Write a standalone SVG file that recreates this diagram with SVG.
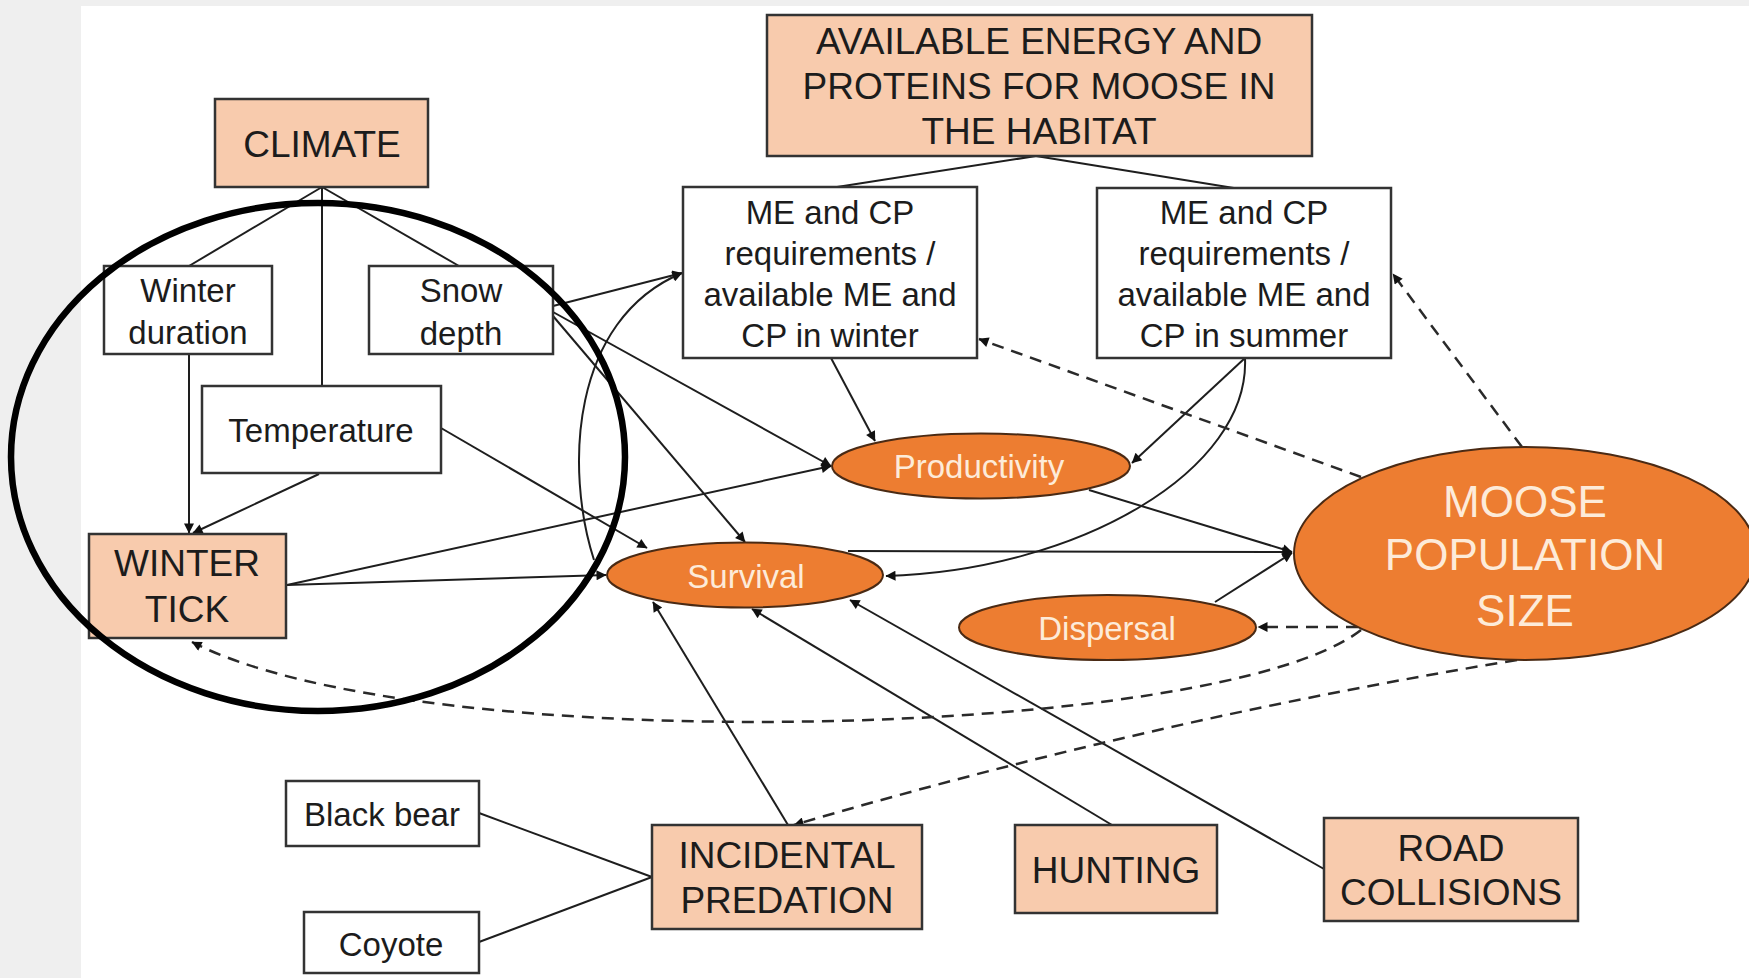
<svg xmlns="http://www.w3.org/2000/svg" width="1749" height="978" viewBox="0 0 1749 978">
  <defs>
    <marker id="arrow" viewBox="0 0 10 10" refX="9.5" refY="5" markerWidth="12" markerHeight="10" markerUnits="userSpaceOnUse" orient="auto">
      <path d="M0,0 L10,5 L0,10 z" fill="#111"/>
    </marker>
    <style>
      .box { stroke: #333; stroke-width: 2.5; }
      .plain { fill: #ffffff; }
      .peach { fill: #f8cbad; }
      .oval { fill: #ed7d31; stroke: #4a2a14; stroke-width: 2; }
      .t { font-family: "Liberation Sans", Arial, sans-serif; text-anchor: middle; dominant-baseline: central; fill: #1c1c1c; }
      .up { font-size: 37px; }
      .lo { font-size: 33px; }
      .ot { font-size: 33px; fill: #fdebd9; }
      .big { font-size: 44px; fill: #fdebd9; }
      .ln { fill: none; stroke: #1e1e1e; stroke-width: 2; }
      .dash { fill: none; stroke: #2a2a2a; stroke-width: 2.5; stroke-dasharray: 12 8; }
    </style>
  </defs>

  <!-- page background -->
  <rect x="0" y="0" width="1749" height="978" fill="#efefef"/>
  <rect x="81" y="6" width="1668" height="972" fill="#ffffff"/>

  <!-- connectors -->
  <g id="connectors">
    <!-- climate drivers -->
    <line class="ln" x1="322" y1="187" x2="189" y2="266"/>
    <line class="ln" x1="322" y1="187" x2="322" y2="386"/>
    <line class="ln" x1="322" y1="187" x2="459" y2="266"/>
    <line class="ln" x1="189" y1="354" x2="189" y2="533" marker-end="url(#arrow)"/>
    <line class="ln" x1="319" y1="474" x2="193" y2="533" marker-end="url(#arrow)"/>
    <!-- habitat energy -->
    <line class="ln" x1="1036" y1="156" x2="837" y2="187"/>
    <line class="ln" x1="1036" y1="156" x2="1240" y2="189"/>
    <!-- snow depth effects -->
    <line class="ln" x1="553" y1="306" x2="682" y2="273" marker-end="url(#arrow)"/>
    <line class="ln" x1="553" y1="312" x2="831" y2="466" marker-end="url(#arrow)"/>
    <line class="ln" x1="553" y1="316" x2="745" y2="542" marker-end="url(#arrow)"/>
    <path class="ln" d="M594,560 C565,470 570,320 682,273" marker-end="url(#arrow)"/>
    <!-- temperature and winter tick -->
    <line class="ln" x1="441" y1="428" x2="647" y2="548" marker-end="url(#arrow)"/>
    <line class="ln" x1="287" y1="585" x2="831" y2="466" marker-end="url(#arrow)"/>
    <line class="ln" x1="287" y1="585" x2="606" y2="575" marker-end="url(#arrow)"/>
    <!-- seasonal energy balance -->
    <line class="ln" x1="831" y1="358" x2="875" y2="441" marker-end="url(#arrow)"/>
    <line class="ln" x1="1245" y1="358" x2="1132" y2="463" marker-end="url(#arrow)"/>
    <path class="ln" d="M1245,358 C1250,470 1080,570 886,576" marker-end="url(#arrow)"/>
    <!-- vital rates to population -->
    <line class="ln" x1="1089" y1="490" x2="1292" y2="552" marker-end="url(#arrow)"/>
    <line class="ln" x1="848" y1="551" x2="1292" y2="552" marker-end="url(#arrow)"/>
    <line class="ln" x1="1215" y1="602" x2="1292" y2="553" marker-end="url(#arrow)"/>
    <!-- mortality sources -->
    <line class="ln" x1="788" y1="825" x2="653" y2="602" marker-end="url(#arrow)"/>
    <line class="ln" x1="1112" y1="825" x2="752" y2="609" marker-end="url(#arrow)"/>
    <line class="ln" x1="1324" y1="869" x2="850" y2="600" marker-end="url(#arrow)"/>
    <line class="ln" x1="479" y1="813" x2="652" y2="877"/>
    <line class="ln" x1="479" y1="942" x2="652" y2="877"/>
    <!-- density feedbacks -->
    <line class="dash" x1="1361" y1="477" x2="979" y2="339" marker-end="url(#arrow)"/>
    <line class="dash" x1="1522" y1="447" x2="1393" y2="274" marker-end="url(#arrow)"/>
    <line class="dash" x1="1358" y1="627" x2="1258" y2="627" marker-end="url(#arrow)"/>
    <path class="dash" d="M1361,630 C1220,740 420,760 192,642" marker-end="url(#arrow)"/>
    <path class="dash" d="M1517,660 Q1150,720 794,825" marker-end="url(#arrow)"/>
  </g>

  <!-- nodes -->
  <g id="climate">
    <rect class="box peach" x="215" y="99" width="213" height="88"/>
    <text class="t up" x="322" y="144">CLIMATE</text>
  </g>
  <g id="habitat-energy">
    <rect class="box peach" x="767" y="15" width="545" height="141"/>
    <text class="t up" x="1039" y="41">AVAILABLE ENERGY AND</text>
    <text class="t up" x="1039" y="86">PROTEINS FOR MOOSE IN</text>
    <text class="t up" x="1039" y="131">THE HABITAT</text>
  </g>
  <g id="me-cp-winter">
    <rect class="box plain" x="683" y="187" width="294" height="171"/>
    <text class="t lo" x="830" y="212">ME and CP</text>
    <text class="t lo" x="830" y="253">requirements /</text>
    <text class="t lo" x="830" y="294">available ME and</text>
    <text class="t lo" x="830" y="335">CP in winter</text>
  </g>
  <g id="me-cp-summer">
    <rect class="box plain" x="1097" y="188" width="294" height="170"/>
    <text class="t lo" x="1244" y="212">ME and CP</text>
    <text class="t lo" x="1244" y="253">requirements /</text>
    <text class="t lo" x="1244" y="294">available ME and</text>
    <text class="t lo" x="1244" y="335">CP in summer</text>
  </g>
  <g id="winter-duration">
    <rect class="box plain" x="104" y="266" width="168" height="88"/>
    <text class="t lo" x="188" y="290">Winter</text>
    <text class="t lo" x="188" y="332">duration</text>
  </g>
  <g id="snow-depth">
    <rect class="box plain" x="369" y="266" width="184" height="88"/>
    <text class="t lo" x="461" y="290">Snow</text>
    <text class="t lo" x="461" y="333">depth</text>
  </g>
  <g id="temperature">
    <rect class="box plain" x="202" y="386" width="239" height="87"/>
    <text class="t lo" x="321" y="430">Temperature</text>
  </g>
  <g id="winter-tick">
    <rect class="box peach" x="89" y="534" width="197" height="104"/>
    <text class="t up" x="187" y="563">WINTER</text>
    <text class="t up" x="187" y="609">TICK</text>
  </g>
  <g id="productivity">
    <ellipse class="oval" cx="981" cy="466" rx="149" ry="32.5"/>
    <text class="t ot" x="979" y="466">Productivity</text>
  </g>
  <g id="survival">
    <ellipse class="oval" cx="745" cy="575" rx="138" ry="32.5"/>
    <text class="t ot" x="746" y="576">Survival</text>
  </g>
  <g id="dispersal">
    <ellipse class="oval" cx="1107.5" cy="627.5" rx="148.5" ry="32.5"/>
    <text class="t ot" x="1107" y="628">Dispersal</text>
  </g>
  <g id="moose-population">
    <ellipse class="oval" cx="1525" cy="553.5" rx="231" ry="106.5"/>
    <text class="t big" x="1525" y="501">MOOSE</text>
    <text class="t big" x="1525" y="554">POPULATION</text>
    <text class="t big" x="1525" y="610">SIZE</text>
  </g>
  <g id="black-bear">
    <rect class="box plain" x="286" y="781" width="193" height="65"/>
    <text class="t lo" x="382" y="814">Black bear</text>
  </g>
  <g id="coyote">
    <rect class="box plain" x="304" y="912" width="175" height="61"/>
    <text class="t lo" x="391" y="944">Coyote</text>
  </g>
  <g id="incidental-predation">
    <rect class="box peach" x="652" y="825" width="270" height="104"/>
    <text class="t up" x="787" y="855">INCIDENTAL</text>
    <text class="t up" x="787" y="900">PREDATION</text>
  </g>
  <g id="hunting">
    <rect class="box peach" x="1015" y="825" width="202" height="88"/>
    <text class="t up" x="1116" y="870">HUNTING</text>
  </g>
  <g id="road-collisions">
    <rect class="box peach" x="1324" y="818" width="254" height="103"/>
    <text class="t up" x="1451" y="848">ROAD</text>
    <text class="t up" x="1451" y="892">COLLISIONS</text>
  </g>

  <!-- emphasis ring around the climate cluster -->
  <ellipse cx="318" cy="457" rx="307" ry="254" fill="none" stroke="#000" stroke-width="6.5"/>
</svg>
